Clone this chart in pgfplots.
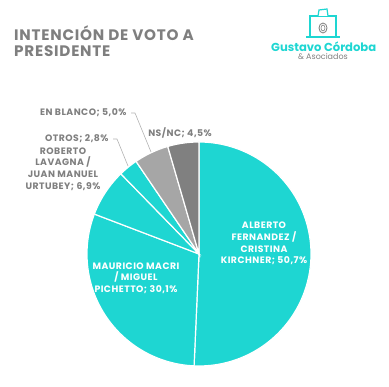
\documentclass[border=0pt]{standalone}
\usepackage{fontspec}
\setmainfont{Poppins}
\usepackage{pgfplots}
\pgfplotsset{compat=1.18}
\definecolor{tealc}{HTML}{1ED6D2}
\definecolor{lgrey}{HTML}{A6A6A6}
\definecolor{dgrey}{HTML}{808080}
\definecolor{txtgrey}{HTML}{7F7F7F}
\newcommand{\lab}{\fontsize{9.3}{11.7}\selectfont\bfseries\addfontfeature{LetterSpace=5}}
\newcommand{\ttl}{\fontsize{15.2}{17}\selectfont\bfseries\addfontfeature{LetterSpace=5}}
\begin{document}
\begin{tikzpicture}[x=1pt,y=1pt]
\path[use as bounding box] (0,0) rectangle (389,387);
% title
\node[anchor=base west,inner sep=0pt,text=txtgrey,font=\ttl] at (14,346) {INTENCIÓN DE VOTO A};
\node[anchor=base west,inner sep=0pt,text=txtgrey,font=\ttl] at (14,330) {PRESIDENTE};
% logo
\draw[tealc,line width=1.8pt] (310,350) -- (310,371) -- (336,371) -- (336,350);
\draw[tealc,line width=1.8pt] (306,350) -- (340,350);
\draw[tealc,line width=1.2pt,fill=white] (318,371) -- (319,377) -- (327,378) -- (328,371);
\draw[txtgrey,line width=0.8pt] (323,359) ellipse (4 and 5);
\draw[txtgrey,line width=0.6pt] (323,359) ellipse (2 and 3);
\node[anchor=base west,inner sep=0pt,text=tealc,font=\fontsize{11.6}{14}\selectfont\bfseries] at (271,335.5) {Gustavo Córdoba};
\node[anchor=base,inner sep=0pt,text=txtgrey,font=\fontsize{8}{10}\selectfont] at (323,327) {\& Asociados};
% pie
\begin{axis}[at={(199pt,133pt)},anchor=center,width=224pt,height=224pt,
  scale only axis,xmin=-1,xmax=1,ymin=-1,ymax=1,hide axis,clip=false]
% ALBERTO FERNANDEZ / CRISTINA KIRCHNER 50.7
\addplot[fill=tealc,draw=white,line width=1.2pt,domain=-92.52:90,samples=120,data cs=polar] ({x},{1}) -- (axis cs:0,0) -- cycle;
% MAURICIO MACRI / MIGUEL PICHETTO 30.1
\addplot[fill=tealc,draw=white,line width=1.2pt,domain=-200.88:-92.52,samples=80,data cs=polar] ({x},{1}) -- (axis cs:0,0) -- cycle;
% ROBERTO LAVAGNA / JUAN MANUEL URTUBEY 6.9
\addplot[fill=tealc,draw=white,line width=1.2pt,domain=-225.72:-200.88,samples=30,data cs=polar] ({x},{1}) -- (axis cs:0,0) -- cycle;
% OTROS 2.8
\addplot[fill=tealc,draw=white,line width=1.2pt,domain=-235.8:-225.72,samples=15,data cs=polar] ({x},{1}) -- (axis cs:0,0) -- cycle;
% EN BLANCO 5.0
\addplot[fill=lgrey,draw=white,line width=1.2pt,domain=-253.8:-235.8,samples=25,data cs=polar] ({x},{1}) -- (axis cs:0,0) -- cycle;
% NS/NC 4.5
\addplot[fill=dgrey,draw=white,line width=1.2pt,domain=-270:-253.8,samples=25,data cs=polar] ({x},{1}) -- (axis cs:0,0) -- cycle;
\end{axis}
% inside labels
\node[align=center,text=white,font=\lab] at (264,143.5) {ALBERTO\\FERNANDEZ /\\CRISTINA\\KIRCHNER; 50,7\%};
\node[align=center,text=white,font=\lab] at (136,109) {MAURICIO MACRI\\/ MIGUEL\\PICHETTO; 30,1\%};
% outside labels
\node[anchor=east,text=txtgrey,font=\lab] at (130,274) {EN BLANCO; 5,0\%};
\node[anchor=east,text=txtgrey,font=\lab] at (112,248) {OTROS; 2,8\%};
\node[align=center,text=txtgrey,font=\lab] at (63,218) {ROBERTO\\LAVAGNA /\\JUAN MANUEL\\URTUBEY; 6,9\%};
\node[text=txtgrey,font=\lab] at (180,254) {NS/NC; 4,5\%};
% leader lines
\draw[txtgrey!60,line width=0.6pt] (131,274) -- (135,274) -- (151,235);
\draw[txtgrey!60,line width=0.6pt] (113,248) -- (117,248) -- (128,221);
\end{tikzpicture}
\end{document}
